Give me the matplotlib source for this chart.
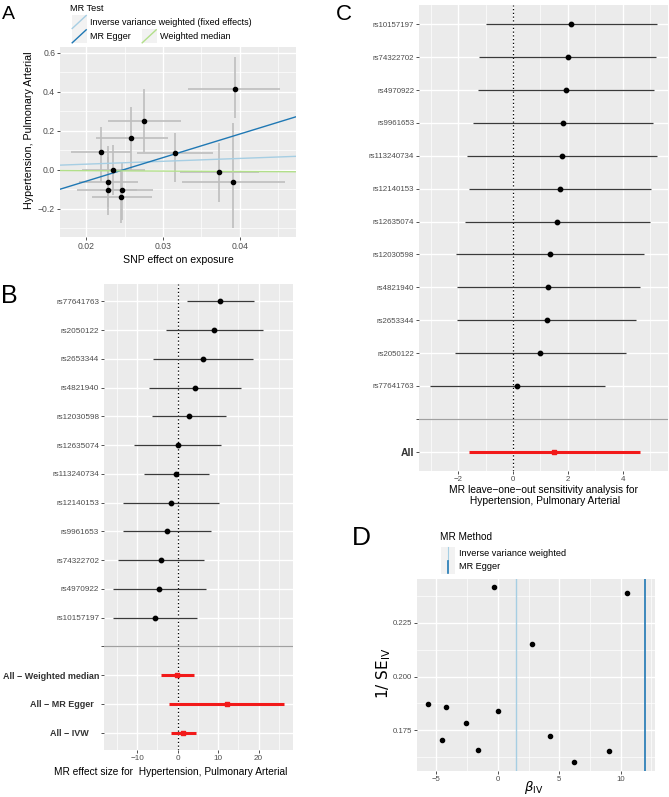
import matplotlib
matplotlib.use("Agg")
import matplotlib.pyplot as plt
from matplotlib.lines import Line2D
from matplotlib.patches import Rectangle
from matplotlib.ticker import MultipleLocator, FixedLocator, FormatStrFormatter, FuncFormatter

plt.rcParams['font.family'] = ['Liberation Sans', 'DejaVu Sans']

W, H = 669, 797

# === Panel A: SNP effects on exposure vs outcome ===
snp_x = [0.0219, 0.0235, 0.0229, 0.0228, 0.0247, 0.0246, 0.0259, 0.0275, 0.0316, 0.0373, 0.0391, 0.0393]
snp_y = [0.094, 0.000, -0.060, -0.103, -0.103, -0.138, 0.161, 0.251, 0.089, -0.012, -0.063, 0.414]
snp_x_lo = [0.0180, 0.0194, 0.0191, 0.0188, 0.0218, 0.0207, 0.0213, 0.0228, 0.0266, 0.0322, 0.0325, 0.0333]
snp_x_hi = [0.0258, 0.0277, 0.0268, 0.0266, 0.0287, 0.0286, 0.0306, 0.0324, 0.0365, 0.0425, 0.0459, 0.0452]
snp_y_lo = [-0.060, -0.128, -0.188, -0.231, -0.256, -0.270, 0.000, 0.094, -0.060, -0.166, -0.299, 0.268]
snp_y_hi = [0.222, 0.128, 0.068, 0.120, 0.034, 0.000, 0.321, 0.414, 0.188, 0.137, 0.239, 0.578]

# MR estimates (slope, intercept)
ivw_slope = 1.47
egger_slope, egger_icpt = 12.1, -0.30
wm_slope = -0.2

# === Panel B: single SNP forest plot ===
b_snps = ['rs77641763', 'rs2050122', 'rs2653344', 'rs4821940', 'rs12030598', 'rs12635074',
          'rs113240734', 'rs12140153', 'rs9961653', 'rs74322702', 'rs4970922', 'rs10157197']
b_est = [10.5, 9.1, 6.2, 4.3, 2.8, 0.0, -0.3, -1.7, -2.6, -4.2, -4.5, -5.7]
b_lo = [2.3, -2.8, -6.1, -7.1, -6.3, -10.7, -8.4, -13.4, -13.6, -14.8, -16.0, -16.0]
b_hi = [18.8, 21.0, 18.5, 15.7, 12.0, 10.7, 7.8, 10.2, 8.3, 6.4, 7.0, 4.9]
sum_names = ['All \u2212 Weighted median', 'All \u2212 MR Egger', 'All \u2212 IVW']
sum_est = [-0.2, 12.1, 1.4]
sum_lo = [-4.2, -2.1, -1.7]
sum_hi = [4.0, 26.3, 4.6]

# === Panel C: leave-one-out ===
c_snps = ['rs10157197', 'rs74322702', 'rs4970922', 'rs9961653', 'rs113240734', 'rs12140153',
          'rs12635074', 'rs12030598', 'rs4821940', 'rs2653344', 'rs2050122', 'rs77641763']
c_est = [2.13, 1.99, 1.93, 1.82, 1.78, 1.71, 1.62, 1.34, 1.29, 1.22, 0.99, 0.15]
c_lo = [-0.99, -1.23, -1.28, -1.48, -1.70, -1.62, -1.76, -2.09, -2.04, -2.06, -2.13, -3.05]
c_hi = [5.24, 5.22, 5.15, 5.13, 5.24, 5.04, 5.01, 4.78, 4.63, 4.48, 4.12, 3.34]
c_all = [1.50, -1.60, 4.62]

# === Panel D: funnel plot ===
d_beta = [-5.71, -4.51, -4.21, -2.61, -1.63, -0.33, 0.0, 2.77, 4.27, 6.20, 9.05, 10.49]
d_inv_se = [0.1874, 0.1707, 0.1860, 0.1783, 0.1659, 0.2414, 0.1838, 0.2152, 0.1724, 0.1601, 0.1656, 0.2386]
d_lines = [1.47, 12.0]

col_ivw, col_egger, col_wm = '#A6CEE3', '#1F78B4', '#B2DF8A'
TICK_COL = '#4D4D4D'


def px_rect(l, t, r, b):
    return [l / W, 1 - b / H, (r - l) / W, (b - t) / H]


def gg_style(ax, size):
    ax.set_facecolor('#EBEBEB')
    for s in ax.spines.values():
        s.set_visible(False)
    ax.set_axisbelow(True)
    ax.grid(which='major', color='white', lw=1.0)
    ax.grid(which='minor', color='white', lw=0.5)
    ax.tick_params(which='major', length=2, width=0.6, color='#333333',
                   labelcolor=TICK_COL, labelsize=size, pad=1.5)
    ax.tick_params(which='minor', length=0)


fig = plt.figure(figsize=(W / 100, H / 100), dpi=100)

# ---------- A ----------
axA = fig.add_axes(px_rect(60, 47, 296, 237))
gg_style(axA, 6.2)
axA.set_xlim(0.0166, 0.0473)
axA.set_ylim(-0.344, 0.63)
axA.xaxis.set_major_locator(FixedLocator([0.02, 0.03, 0.04]))
axA.xaxis.set_minor_locator(FixedLocator([0.025, 0.035, 0.045]))
axA.xaxis.set_major_formatter(FormatStrFormatter('%.2f'))
axA.yaxis.set_major_locator(MultipleLocator(0.2))
axA.yaxis.set_minor_locator(FixedLocator([-0.3, -0.1, 0.1, 0.3, 0.5]))
axA.yaxis.set_major_formatter(FuncFormatter(lambda v, p: ('%.1f' % v).replace('-', '\u2212')))
axA.hlines(snp_y, snp_x_lo, snp_x_hi, color='#BEBEBE', lw=1.2, zorder=2)
axA.vlines(snp_x, snp_y_lo, snp_y_hi, color='#BEBEBE', lw=1.2, zorder=2)
axA.axline((0, 0), slope=ivw_slope, color=col_ivw, lw=1.0, zorder=3)
axA.axline((0, egger_icpt), slope=egger_slope, color=col_egger, lw=1.0, zorder=3)
axA.axline((0, 0), slope=wm_slope, color=col_wm, lw=1.0, zorder=3)
axA.scatter(snp_x, snp_y, s=9, color='black', zorder=4)
axA.set_xlabel('SNP effect on exposure', fontsize=7.6, labelpad=3)
axA.set_ylabel('Hypertension, Pulmonary Arterial', fontsize=7.7)
axA.yaxis.set_label_coords(-0.11, 0.56)

# ---------- B ----------
axB = fig.add_axes(px_rect(104, 284, 293, 750))
gg_style(axB, 5.9)
n_b = len(b_snps)
yb_snp = [n_b + 3 - i for i in range(n_b)]
yb_sum = [2, 1, 0]
blank_b = 3
axB.set_xlim(-18.2, 28.5)
axB.set_ylim(-0.6, n_b + 3 + 0.6)
axB.xaxis.set_major_locator(FixedLocator([-10, 0, 10, 20]))
axB.xaxis.set_minor_locator(FixedLocator([-15, -5, 5, 15, 25]))
axB.set_yticks(yb_sum + [blank_b] + yb_snp)
axB.set_yticklabels(sum_names + [''] + b_snps)
axB.grid(axis='y', which='minor', visible=False)
for lab in axB.get_yticklabels()[:3]:
    lab.set_fontweight('bold')
    lab.set_fontsize(6.5)
    lab.set_color('#333333')
ticks_b = axB.yaxis.get_major_ticks()
ticks_b[1].set_pad(1.5 + 4.0)
ticks_b[2].set_pad(1.5 + 7.5)
axB.axhline(blank_b, color='#A0A0A0', lw=0.9, zorder=2)
axB.axvline(0, color='black', ls=(0, (1, 2)), lw=0.9, zorder=2)
axB.hlines(yb_snp, b_lo, b_hi, color='#3A3A3A', lw=0.9, zorder=3)
axB.scatter(b_est, yb_snp, s=10, color='black', zorder=4)
axB.hlines(yb_sum, sum_lo, sum_hi, color='#F21A1A', lw=2.2, zorder=3)
axB.scatter(sum_est, yb_sum, s=9, marker='s', color='#F21A1A', zorder=4)
axB.set_xlabel('MR effect size for  Hypertension, Pulmonary Arterial', fontsize=7.3)
axB.xaxis.set_label_coords(0.355, -0.036)

# ---------- C ----------
axC = fig.add_axes(px_rect(419, 4.6, 668, 471.4))
gg_style(axC, 5.7)
n_c = len(c_snps)
yc_snp = [n_c + 1 - i for i in range(n_c)]
axC.set_xlim(-3.44, 5.66)
axC.set_ylim(-0.6, n_c + 1 + 0.6)
axC.xaxis.set_major_locator(FixedLocator([-2, 0, 2, 4]))
axC.xaxis.set_minor_locator(FixedLocator([-3, -1, 1, 3, 5]))
axC.set_yticks([0, 1] + yc_snp)
axC.set_yticklabels(['All', ''] + c_snps)
axC.grid(axis='y', which='minor', visible=False)
lab_all = axC.get_yticklabels()[0]
lab_all.set_fontweight('bold')
lab_all.set_fontsize(7.5)
lab_all.set_color('#333333')
axC.axhline(1, color='#A0A0A0', lw=0.9, zorder=2)
axC.axvline(0, color='black', ls=(0, (1, 2)), lw=0.9, zorder=2)
axC.hlines(yc_snp, c_lo, c_hi, color='#3A3A3A', lw=0.9, zorder=3)
axC.scatter(c_est, yc_snp, s=10, color='black', zorder=4)
axC.hlines([0], [c_all[1]], [c_all[2]], color='#F21A1A', lw=2.2, zorder=3)
axC.scatter([c_all[0]], [0], s=9, marker='s', color='#F21A1A', zorder=4)
axC.set_xlabel('MR leave\u2212one\u2212out sensitivity analysis for\n Hypertension, Pulmonary Arterial',
               fontsize=7.4, labelpad=1, linespacing=1.2)

# ---------- D ----------
axD = fig.add_axes(px_rect(417, 579, 655, 771))
gg_style(axD, 5.6)
axD.set_xlim(-6.58, 12.8)
axD.set_ylim(0.1561, 0.2453)
axD.xaxis.set_major_locator(FixedLocator([-5, 0, 5, 10]))
axD.xaxis.set_minor_locator(FixedLocator([-7.5, -2.5, 2.5, 7.5, 12.5]))
axD.xaxis.set_major_formatter(FuncFormatter(lambda v, p: ('%d' % v).replace('-', '\u2212')))
axD.yaxis.set_major_locator(FixedLocator([0.175, 0.200, 0.225]))
axD.yaxis.set_minor_locator(FixedLocator([0.1625, 0.1875, 0.2125, 0.2375]))
axD.yaxis.set_major_formatter(FormatStrFormatter('%.3f'))
axD.axvline(d_lines[0], color=col_ivw, lw=1.0, zorder=2)
axD.axvline(d_lines[1], color=col_egger, lw=1.2, zorder=2)
axD.scatter(d_beta, d_inv_se, s=9, color='black', zorder=4)
axD.set_xlabel(r'$\beta_{\mathrm{IV}}$', fontsize=9.5)
axD.xaxis.set_label_coords(0.49, -0.04)
axD.set_ylabel(r'$1/\ \mathrm{SE}_{\mathrm{IV}}$', fontsize=11)
axD.yaxis.set_label_coords(-0.10, 0.51)

# ---------- overlay: panel letters and legends ----------
ov = fig.add_axes([0, 0, 1, 1], zorder=10)
ov.set_xlim(0, W)
ov.set_ylim(H, 0)
ov.axis('off')

ov.text(2, 14, 'A', fontsize=14, va='center', ha='left')
ov.text(1, 296, 'B', fontsize=18, va='center', ha='left')
ov.text(336, 14, 'C', fontsize=16, va='center', ha='left')
ov.text(352, 538, 'D', fontsize=19, va='center', ha='left')

# legend A
ov.text(70, 8.5, 'MR Test', fontsize=6.6, va='center', ha='left')
legA = [(71.7, 15, 'Inverse variance weighted (fixed effects)', col_ivw),
        (71.7, 29.3, 'MR Egger', col_egger),
        (141.7, 29.3, 'Weighted median', col_wm)]
for kx, ky, lab, c in legA:
    ov.add_patch(Rectangle((kx, ky), 15, 14, fc='#F2F2F2', ec='none'))
    ov.add_line(Line2D([kx + 0.5, kx + 14.5], [ky + 13.5, ky + 0.5], color=c, lw=1.0))
    ov.text(kx + 18.5, ky + 7.2, lab, fontsize=6.5, va='center', ha='left')

# legend D
ov.text(440.5, 537.5, 'MR Method', fontsize=7.2, va='center', ha='left')
legD = [(441, 546.5, 'Inverse variance weighted', col_ivw, 0.8),
        (441, 560, 'MR Egger', col_egger, 1.2)]
for kx, ky, lab, c, lw in legD:
    ov.add_patch(Rectangle((kx, ky), 14, 13.5, fc='#F2F2F2', ec='none'))
    ov.add_line(Line2D([kx + 7, kx + 7], [ky + 0.5, ky + 13], color=c, lw=lw))
    ov.text(kx + 18, ky + 6.8, lab, fontsize=6.6, va='center', ha='left')

fig.savefig('out.png', dpi=100)
